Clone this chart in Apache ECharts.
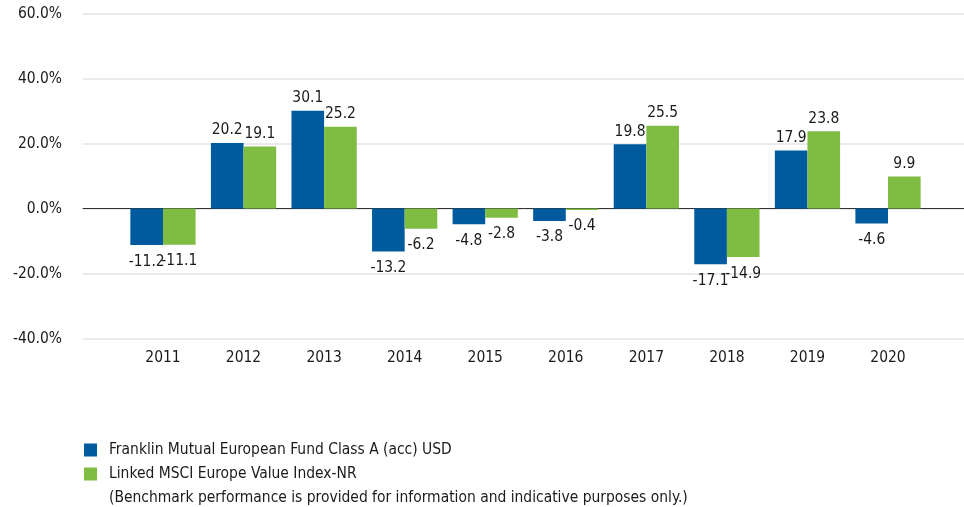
<!DOCTYPE html>
<html>
<head>
<meta charset="utf-8">
<script src="https://cdn.jsdelivr.net/npm/echarts@6/dist/echarts.min.js"></script>
<style>html,body{margin:0;padding:0;background:#fff}#c{width:964px;height:507px}</style>
</head>
<body>
<div id="c"></div>
<script>
var categories = ['2011','2012','2013','2014','2015','2016','2017','2018','2019','2020'];
var fundValues = [-11.2, 20.2, 30.1, -13.2, -4.8, -3.8, 19.8, -17.1, 17.9, -4.6];
var indexValues = [-11.1, 19.1, 25.2, -6.2, -2.8, -0.4, 25.5, -14.9, 23.8, 9.9];
var seriesNames = ['Franklin Mutual European Fund Class A (acc) USD', 'Linked MSCI Europe Value Index-NR'];
var noteText = '(Benchmark performance is provided for information and indicative purposes only.)';
var yMin = -40, yMax = 60, yStep = 20;

// pick a condensed font if one is installed, otherwise a regular sans at a matching width
var cv = document.createElement('canvas').getContext('2d');
function w(f) { cv.font = f; return cv.measureText(seriesNames[0]).width; }
var candidates = ['Liberation Sans Narrow', 'Arial Narrow', 'DejaVu Sans Condensed'];
var FONT = '"Liberation Sans", Arial, sans-serif', FS = 15.2;
for (var i = 0; i < candidates.length; i++) {
  var a = w('50px "' + candidates[i] + '", monospace'), b = w('50px monospace');
  if (Math.abs(a - b) > 1) {
    var w17 = w('17px "' + candidates[i] + '"');
    FONT = '"' + candidates[i] + '", sans-serif';
    FS = 17 * 343 / w17;
    break;
  }
}
var TXT = '#1a1a1a';
var BLUE = '#005A9E';
var GREEN = '#7FBD42';

var chart = echarts.init(document.getElementById('c'));
function mkSeries(name, vals, color) {
  return {
    name: name, type: 'bar', xAxisIndex: 0, yAxisIndex: 0,
    barGap: '0%', barCategoryGap: '19%',
    itemStyle: { color: color },
    data: vals.map(function (v) {
      return {
        value: v,
        label: {
          show: true, position: v < 0 ? 'bottom' : 'top', distance: v < 0 ? 9 : 5,
          fontFamily: FONT, fontSize: FS, color: TXT,
          formatter: function (p) { return p.value.toFixed(1); }
        }
      };
    })
  };
}
chart.setOption({
  animation: false,
  textStyle: { fontFamily: FONT },
  grid: [
    { left: 122.7, width: 805.6, top: 13.5, height: 325.2 },
    { left: 83, right: 0, top: 13.5, height: 325.2 }
  ],
  xAxis: [
    { type: 'category', gridIndex: 0, data: categories, boundaryGap: true,
      axisLine: { show: false }, axisTick: { show: false },
      axisLabel: { fontFamily: FONT, fontSize: FS, color: TXT, margin: 12 } },
    { type: 'value', gridIndex: 1, min: 0, max: 1, show: true,
      axisLabel: { show: false }, axisTick: { show: false }, splitLine: { show: false },
      axisLine: { show: true, onZero: true, lineStyle: { color: '#333', width: 1 } } }
  ],
  yAxis: [
    { type: 'value', gridIndex: 0, min: yMin, max: yMax, interval: yStep, show: false, splitLine: { show: false } },
    { type: 'value', gridIndex: 1, min: yMin, max: yMax, interval: yStep,
      axisLine: { show: false }, axisTick: { show: false },
      splitLine: { lineStyle: { color: '#e3e3e3', width: 1.5 } },
      axisLabel: { fontFamily: FONT, fontSize: FS, color: TXT, margin: 21,
        formatter: function (v) { return v.toFixed(1) + '%'; } } }
  ],
  legend: {
    orient: 'vertical', left: 84, top: 441, padding: 0,
    itemWidth: 13, itemHeight: 13, itemGap: 6, icon: 'rect',
    textStyle: { fontFamily: FONT, fontSize: FS, color: TXT, lineHeight: 18, padding: [0,0,0,7] },
    data: seriesNames
  },
  graphic: [{
    type: 'text', left: 109, top: 490,
    style: { text: noteText, font: FS + 'px ' + FONT, fill: TXT }
  }],
  series: [
    mkSeries(seriesNames[0], fundValues, BLUE),
    mkSeries(seriesNames[1], indexValues, GREEN)
  ]
});
</script>
</body>
</html>
